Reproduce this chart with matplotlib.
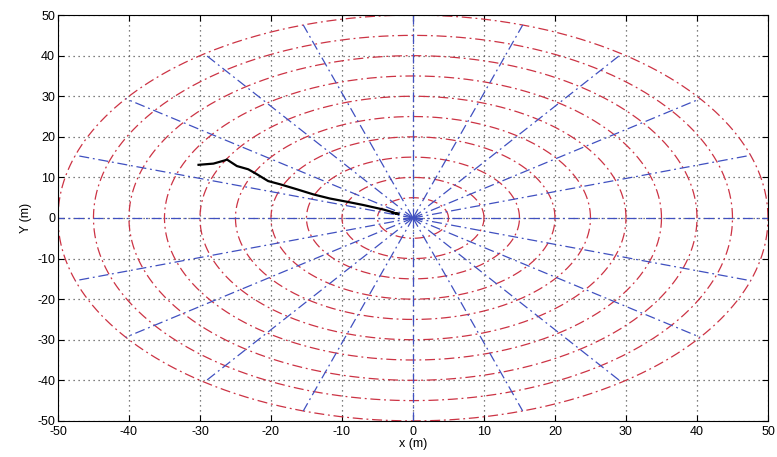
import numpy as np
import matplotlib
matplotlib.use("Agg")
import matplotlib.pyplot as plt

plt.rcParams["font.family"] = ["Liberation Sans", "DejaVu Sans"]
plt.rcParams["axes.unicode_minus"] = False

# polar grid: ring radii (m) and spoke angles (deg)
radii = [5, 10, 15, 20, 25, 30, 35, 40, 45, 50]
spoke_angles = [0, 18, 36, 54, 72, 90, 108, 126, 144, 162,
                180, 198, 216, 234, 252, 270, 288, 306, 324, 342]

# tracked path (m)
path_x = [-30.2, -28.1, -26.5, -26.2, -24.8, -23.2, -22.0, -20.4, -18.7,
          -16.4, -14.0, -11.7, -9.3, -7.0, -4.2, -3.2, -2.4, -2.0, -2.9]
path_y = [13.1, 13.4, 14.2, 14.4, 12.8, 12.0, 10.8, 9.1, 8.3,
          7.1, 5.8, 4.8, 4.0, 3.2, 2.1, 1.6, 1.1, 1.0, 1.3]

ticks = [-50, -40, -30, -20, -10, 0, 10, 20, 30, 40, 50]

red = "#cc3344"
blue = "#4050c0"
dashdot = (0, (8, 3, 1.5, 3))

fig = plt.figure(figsize=(7.77, 4.57), dpi=100)
ax = fig.add_axes([0.0746, 0.079, 0.9138, 0.888])

t = np.linspace(0, 2 * np.pi, 721)
for r in radii:
    ax.plot(r * np.cos(t), r * np.sin(t), linestyle=dashdot, color=red, lw=0.9)

for a in spoke_angles:
    th = np.deg2rad(a)
    ax.plot([0, 50 * np.cos(th)], [0, 50 * np.sin(th)], linestyle=dashdot,
            color=blue, lw=0.9)

ax.plot(path_x, path_y, color="black", lw=1.6)

ax.set_xlim(-50, 50)
ax.set_ylim(-50, 50)
ax.set_xticks(ticks)
ax.set_yticks(ticks)
ax.grid(True, linestyle=(0, (1, 3)), color="#555555", lw=0.9)
ax.set_axisbelow(True)
ax.tick_params(direction="in", top=True, right=True, labelsize=9,
               length=4, pad=2)
ax.tick_params(axis="x", pad=3.5)
ax.set_xlabel("x (m)", fontsize=9, labelpad=0)
ax.set_ylabel("Y (m)", fontsize=9, labelpad=4)

fig.savefig("out.png", dpi=100)
